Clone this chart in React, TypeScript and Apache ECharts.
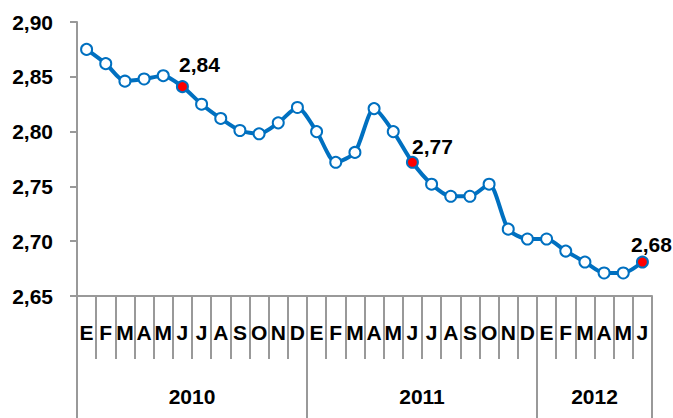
import React, { useEffect, useRef } from "react";
import * as echarts from "echarts";

const months = [
  "E", "F", "M", "A", "M", "J", "J", "A", "S", "O", "N", "D",
  "E", "F", "M", "A", "M", "J", "J", "A", "S", "O", "N", "D",
  "E", "F", "M", "A", "M", "J",
];
const values = [
  2.875, 2.862, 2.846, 2.848, 2.851, 2.841, 2.825, 2.812, 2.801, 2.798, 2.808, 2.822,
  2.8, 2.772, 2.781, 2.821, 2.8, 2.772, 2.752, 2.741, 2.741, 2.752, 2.711, 2.702,
  2.702, 2.691, 2.681, 2.671, 2.671, 2.681,
];
const highlightIdx = [5, 17, 29];
const highlightLabels = ["2,84", "2,77", "2,68"];
const years = ["2010", "2011", "2012"];
const yearBounds = [0, 12, 24, 30];

const BLUE = "#0070C0";
const GREY = "#999999";
const FONT = "'Liberation Sans', Arial, sans-serif";
const FS = 21;

export default function App() {
  const ref = useRef<HTMLDivElement>(null);
  useEffect(() => {
    if (!ref.current) return;
    const chart = echarts.init(ref.current, null, { renderer: "svg" });
    const labelOffsets: Record<number, number[]> = {
      5: [17, 0],
      17: [20, 6],
      29: [9, 4],
    };
    const data = values.map((v, i) => {
      const h = highlightIdx.indexOf(i);
      if (h < 0) return { value: v };
      return {
        value: v,
        itemStyle: { color: "#FF0000", borderColor: BLUE, borderWidth: 2 },
        label: {
          show: true,
          position: "top",
          distance: 5,
          offset: labelOffsets[i],
          formatter: () => highlightLabels[h],
          color: "#000",
          fontSize: FS,
          fontWeight: "bold",
          fontFamily: FONT,
        },
      };
    });
    const yearCenters = years.map((_, i) => (yearBounds[i] + yearBounds[i + 1]) / 2);
    chart.setOption({
      animation: false,
      grid: { left: 77, right: 21, top: 22, bottom: 122, containLabel: false },
      xAxis: [
        {
          type: "category",
          data: months,
          boundaryGap: true,
          axisLine: { show: true, lineStyle: { color: GREY, width: 2 } },
          axisTick: { show: true, interval: 0, length: 63, lineStyle: { color: GREY, width: 2 } },
          axisLabel: {
            interval: 0,
            margin: 26,
            color: "#000",
            fontSize: FS,
            fontWeight: "bold",
            fontFamily: FONT,
            hideOverlap: false,
          },
          splitLine: { show: false },
        },
        {
          type: "value",
          min: 0,
          max: 30,
          position: "bottom",
          axisLine: { show: false },
          splitLine: { show: false },
          axisTick: {
            show: true,
            customValues: yearBounds,
            length: 130,
            lineStyle: { color: GREY, width: 2 },
          },
          axisLabel: {
            customValues: yearCenters,
            formatter: (v: number) => {
              const k = yearCenters.indexOf(v);
              return k >= 0 ? years[k] : "";
            },
            margin: 90,
            color: "#000",
            fontSize: FS,
            fontWeight: "bold",
            fontFamily: FONT,
          },
        },
      ],
      yAxis: {
        type: "value",
        min: 2.65,
        max: 2.9,
        interval: 0.05,
        axisLine: { show: true, lineStyle: { color: GREY, width: 2 } },
        axisTick: { show: true, length: 7, lineStyle: { color: GREY, width: 2 } },
        splitLine: { show: false },
        axisLabel: {
          margin: 24,
          formatter: (v: number) => v.toFixed(2).replace(".", ","),
          color: "#000",
          fontSize: FS,
          fontWeight: "bold",
          fontFamily: FONT,
        },
      },
      series: [
        {
          type: "line",
          xAxisIndex: 0,
          data,
          smooth: 0.25,
          symbol: "circle",
          symbolSize: 11,
          showAllSymbol: true,
          lineStyle: { color: BLUE, width: 4 },
          itemStyle: { color: "#FFFFFF", borderColor: BLUE, borderWidth: 2 },
          z: 3,
        },
      ],
    });
    return () => chart.dispose();
  }, []);
  return <div ref={ref} style={{ width: 673, height: 418, position: "absolute", left: 0, top: 0 }} />;
}
